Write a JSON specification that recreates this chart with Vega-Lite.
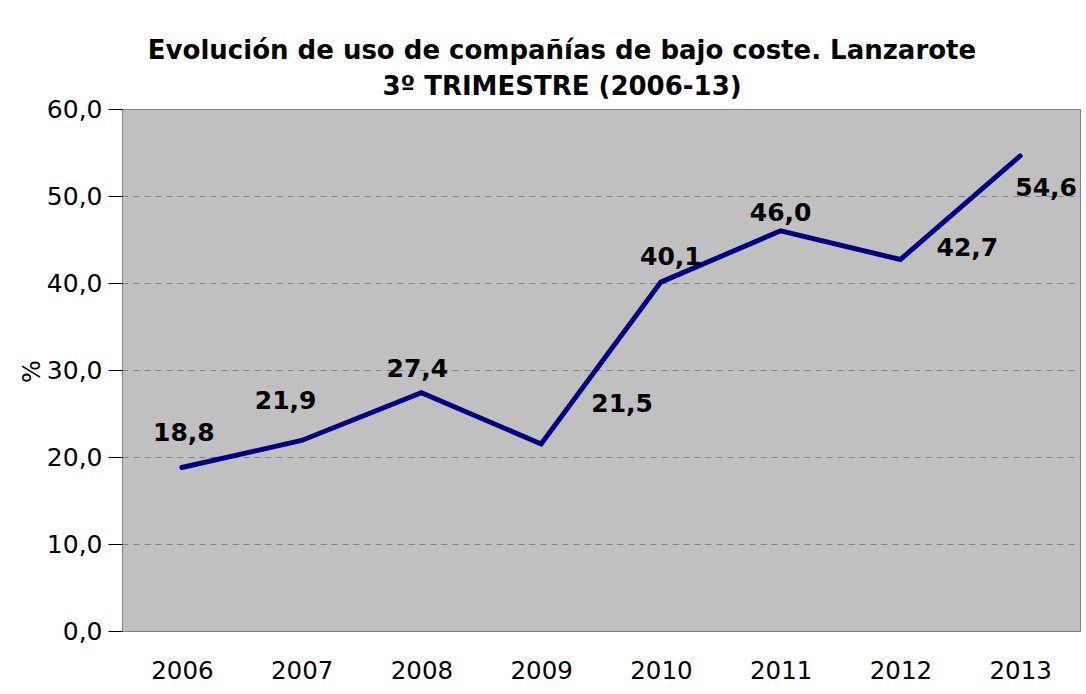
{
  "$schema": "https://vega.github.io/schema/vega-lite/v6.json",
  "width": 958,
  "height": 522,
  "autosize": {"type": "none"},
  "padding": {"left": 122, "top": 109, "right": 6, "bottom": 63},
  "background": "white",
  "title": {
    "text": ["Evolución de uso de compañías de bajo coste. Lanzarote", "3º TRIMESTRE (2006-13)"],
    "font": "DejaVu Sans",
    "fontSize": 26,
    "fontWeight": "bold",
    "color": "black",
    "anchor": "middle",
    "dx": -39,
    "offset": -3,
    "lineHeight": 36
  },
  "data": {
    "values": [
      {"year": "2006", "value": 18.8, "label": "18,8"},
      {"year": "2007", "value": 21.9, "label": "21,9"},
      {"year": "2008", "value": 27.4, "label": "27,4"},
      {"year": "2009", "value": 21.5, "label": "21,5"},
      {"year": "2010", "value": 40.1, "label": "40,1"},
      {"year": "2011", "value": 46.0, "label": "46,0"},
      {"year": "2012", "value": 42.7, "label": "42,7"},
      {"year": "2013", "value": 54.6, "label": "54,6"}
    ]
  },
  "config": {
    "view": {"fill": "#C0C0C0", "stroke": "#808080", "strokeWidth": 1},
    "font": "DejaVu Sans"
  },
  "encoding": {
    "x": {
      "field": "year", "type": "ordinal",
      "scale": {"type": "point", "padding": 0.5},
      "axis": {
        "title": null, "labelAngle": 0, "ticks": false, "domain": false, "grid": false,
        "labelFont": "DejaVu Sans", "labelFontSize": 24.5, "labelColor": "black", "labelPadding": 28
      }
    },
    "y": {
      "field": "value", "type": "quantitative",
      "scale": {"domain": [0, 60], "nice": false, "zero": true},
      "axis": {
        "title": "%", "titleFont": "DejaVu Sans", "titleFontSize": 24, "titleFontWeight": "normal",
        "titleColor": "black", "titleAngle": -90, "titleX": -90, "titleY": 262,
        "titleAlign": "center", "titleBaseline": "middle",
        "values": [0, 10, 20, 30, 40, 50, 60],
        "labelExpr": "replace(format(datum.value, '.1f'), '.', ',')",
        "labelFont": "DejaVu Sans", "labelFontSize": 25, "labelColor": "black", "labelPadding": 6,
        "tickSize": 14, "tickColor": "black", "tickWidth": 1,
        "domain": false,
        "grid": true, "gridColor": "#808080", "gridDash": [6, 5], "gridWidth": 1
      }
    }
  },
  "layer": [
    {
      "mark": {"type": "rule", "color": "black", "strokeWidth": 1.5},
      "data": {"values": [{"a": 0}]},
      "encoding": {"x": null, "y": {"datum": 0, "type": "quantitative"}}
    },
    {
      "mark": {"type": "rule", "color": "black", "strokeWidth": 1.5},
      "data": {"values": [{"a": 0}]},
      "encoding": {"x": {"value": 0}, "y": {"datum": 0, "type": "quantitative"}, "y2": {"datum": 60}}
    },
    {
      "mark": {"type": "line", "color": "#000080", "strokeWidth": 5, "strokeCap": "round", "strokeJoin": "miter"}
    },
    {
      "transform": [{"filter": "datum.year == '2006'"}],
      "mark": {"type": "text", "font": "DejaVu Sans", "fontSize": 25, "fontWeight": "bold", "color": "black", "dx": 2, "dy": -34},
      "encoding": {"text": {"field": "label"}}
    },
    {
      "transform": [{"filter": "datum.year == '2007'"}],
      "mark": {"type": "text", "font": "DejaVu Sans", "fontSize": 25, "fontWeight": "bold", "color": "black", "dx": -16, "dy": -39},
      "encoding": {"text": {"field": "label"}}
    },
    {
      "transform": [{"filter": "datum.year == '2008'"}],
      "mark": {"type": "text", "font": "DejaVu Sans", "fontSize": 25, "fontWeight": "bold", "color": "black", "dx": -4, "dy": -24},
      "encoding": {"text": {"field": "label"}}
    },
    {
      "transform": [{"filter": "datum.year == '2009'"}],
      "mark": {"type": "text", "font": "DejaVu Sans", "fontSize": 25, "fontWeight": "bold", "color": "black", "dx": 81, "dy": -40},
      "encoding": {"text": {"field": "label"}}
    },
    {
      "transform": [{"filter": "datum.year == '2010'"}],
      "mark": {"type": "text", "font": "DejaVu Sans", "fontSize": 25, "fontWeight": "bold", "color": "black", "dx": 10, "dy": -25},
      "encoding": {"text": {"field": "label"}}
    },
    {
      "transform": [{"filter": "datum.year == '2011'"}],
      "mark": {"type": "text", "font": "DejaVu Sans", "fontSize": 25, "fontWeight": "bold", "color": "black", "dx": 0, "dy": -18},
      "encoding": {"text": {"field": "label"}}
    },
    {
      "transform": [{"filter": "datum.year == '2012'"}],
      "mark": {"type": "text", "font": "DejaVu Sans", "fontSize": 25, "fontWeight": "bold", "color": "black", "dx": 67, "dy": -12},
      "encoding": {"text": {"field": "label"}}
    },
    {
      "transform": [{"filter": "datum.year == '2013'"}],
      "mark": {"type": "text", "font": "DejaVu Sans", "fontSize": 25, "fontWeight": "bold", "color": "black", "dx": 26, "dy": 32},
      "encoding": {"text": {"field": "label"}}
    }
  ]
}
